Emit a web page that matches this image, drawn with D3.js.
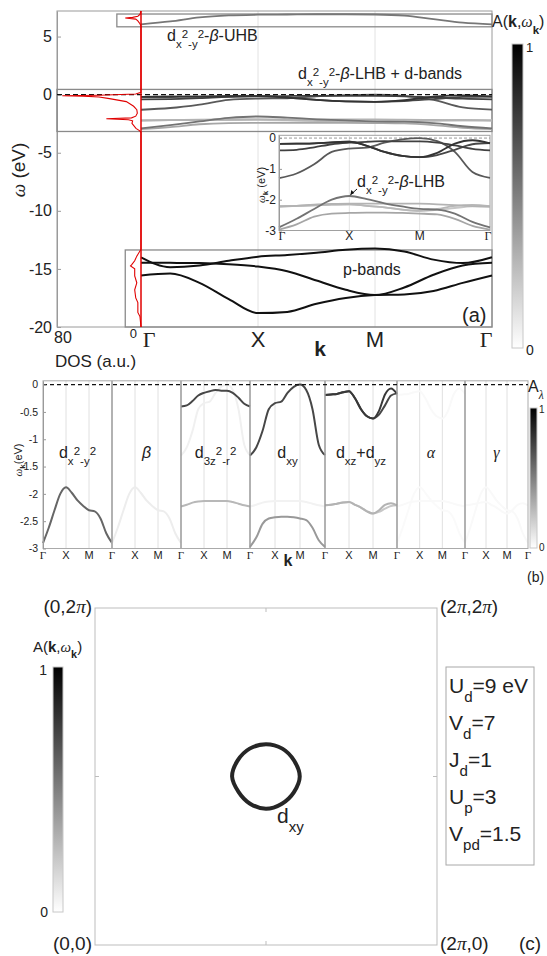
<!DOCTYPE html>
<meta charset="utf-8" />
<script src="https://d3js.org/d3.v7.min.js"></script>
<style>
  body { margin: 0; background: #fff; }
  text { font-family: "Liberation Sans", Arial, sans-serif; fill: #222; }
</style>
<div id="chart"></div>
<script>
// k path: Gamma=0, X=1, M=2, Gamma=3
const kPts = [0, 0.25, 0.5, 0.75, 1, 1.25, 1.5, 1.75, 2, 2.25, 2.5, 2.75, 3];
const kLabels = ["Γ", "X", "M", "Γ"];

// d-like bands near the Fermi level (eV)
const bandLHB    = [-2.9, -2.62, -2.3, -2.0, -1.88, -1.98, -2.12, -2.22, -2.3, -2.32, -2.45, -2.72, -2.9];
const bandZ2Up   = [-0.4, -0.38, -0.3, -0.2, -0.15, -0.12, -0.1, -0.11, -0.11, -0.15, -0.24, -0.35, -0.4];
const bandZ2Low  = [-2.23, -2.2, -2.16, -2.14, -2.13, -2.13, -2.13, -2.13, -2.13, -2.15, -2.18, -2.21, -2.23];
const bandXYUp   = [-1.3, -1.15, -0.85, -0.45, -0.34, -0.31, -0.15, -0.04, 0.0, -0.1, -0.45, -1.1, -1.29];
const bandXYLow  = [-2.97, -2.8, -2.55, -2.45, -2.43, -2.42, -2.42, -2.43, -2.45, -2.48, -2.62, -2.85, -2.97];
const bandXZ1    = [-0.19, -0.18, -0.17, -0.14, -0.12, -0.25, -0.45, -0.58, -0.62, -0.48, -0.18, -0.07, -0.17];
const bandXZ2    = [-0.19, -0.18, -0.17, -0.14, -0.12, -0.25, -0.45, -0.58, -0.62, -0.55, -0.38, -0.2, -0.16];
const bandXZLow1 = [-2.21, -2.2, -2.18, -2.16, -2.15, -2.2, -2.25, -2.32, -2.36, -2.3, -2.2, -2.17, -2.21];
const bandXZLow2 = [-2.21, -2.2, -2.18, -2.16, -2.15, -2.2, -2.25, -2.32, -2.36, -2.33, -2.27, -2.22, -2.21];
// upper Hubbard band and p bands
const bandUHB = [6.05, 6.3, 6.65, 6.82, 6.88, 6.9, 6.92, 6.92, 6.9, 6.8, 6.5, 6.2, 6.05];
const bandP1  = [-14.0, -14.85, -14.7, -14.3, -13.95, -13.8, -13.6, -13.35, -13.25, -13.5, -14.2, -14.5, -14.0];
const bandP2  = [-14.47, -14.48, -14.5, -14.6, -14.8, -15.2, -16.0, -16.8, -17.25, -16.6, -15.5, -14.7, -14.47];
const bandP3  = [-15.56, -15.4, -16.2, -17.6, -18.8, -18.7, -18.0, -17.5, -17.25, -17.2, -16.9, -16.2, -15.56];

// density of states (energy, a.u.)
const dosE = [7.2, 6.9, 6.75, 6.65, 6.6, 6.5, 6.35, 6.1, 5.9, 0.2, 0.05, -0.05, -0.09, -0.13, -0.2, -0.34, -0.6, -1.0, -1.3, -1.6, -1.85, -2.0, -2.07, -2.16, -2.25, -2.47, -2.9, -3.1, -3.25,
  -13.3, -13.9, -14.3, -14.65, -14.75, -15.0, -15.6, -16.2, -16.8, -17.5, -17.9, -18.75, -19.1, -20];
const dosV = [0, 1, 3, 8, 15, 5, 3, 1, 0, 0, 5, 40, 75, 55, 40, 30, 14, 7, 4, 3.5, 5, 9, 33, 12, 8, 8.6, 4.8, 1.5, 0,
  0, 4, 6, 9, 10, 6, 6, 4, 6, 5, 3, 3, 1, 0];

// spectral weights
const totalWeight = { LHB: 0.55, Z2Up: 0.75, Z2Low: 0.3, XYUp: 0.65, XYLow: 0.35, XZ1: 0.8, XZ2: 0.72, XZLow1: 0.28, XZLow2: 0.22 };
const orbWeights = [
  { LHB: 0.6 },
  { LHB: 0.07 },
  { Z2Up: 0.72, Z2Low: 0.28, XYUp: 0.06 },
  { XYUp: 0.72, XYLow: 0.4, Z2Low: 0.05 },
  { XZ1: 0.78, XZ2: 0.72, XZLow1: 0.3, XZLow2: 0.22 },
  { XZ1: 0.025, Z2Low: 0.025, LHB: 0.02 },
  { LHB: 0.025, XZLow1: 0.025 }
];

// Fermi surface (polar around (pi,pi))
const fsAngle  = [0, 30, 60, 90, 120, 150, 180, 210, 240, 270, 300, 330];
const fsRadius = [0.62, 0.595, 0.6, 0.603, 0.6, 0.6, 0.623, 0.58, 0.585, 0.603, 0.585, 0.59];

const params = [["U", "d", "=9 eV"], ["V", "d", "=7"], ["J", "d", "=1"], ["U", "p", "=3"], ["V", "pd", "=1.5"]];

const bands = { LHB: bandLHB, Z2Up: bandZ2Up, Z2Low: bandZ2Low, XYUp: bandXYUp, XYLow: bandXYLow,
  XZ1: bandXZ1, XZ2: bandXZ2, XZLow1: bandXZLow1, XZLow2: bandXZLow2 };

const svg = d3.select("#chart").append("svg").attr("width", 547).attr("height", 956);
const grad = svg.append("defs").append("linearGradient").attr("id", "gbw")
  .attr("x1", 0).attr("y1", 0).attr("x2", 0).attr("y2", 1);
grad.append("stop").attr("offset", "0%").attr("stop-color", "#000");
grad.append("stop").attr("offset", "100%").attr("stop-color", "#fff");

const grey = d3.interpolateRgb("#ffffff", "#000000");
const SERIF = "Liberation Serif, serif";

// text with sub / superscripts
function rich(g, x, y, parts, size, anchor) {
  const t = g.append("text").attr("x", x).attr("y", y)
    .style("font-size", size + "px").attr("text-anchor", anchor || "start");
  const offs = { n: 0, b: 0.42, sb: -0.18, p: -0.4 };
  let cur = 0;
  parts.forEach((p) => {
    const lvl = p[1] || "n";
    const off = offs[lvl] * size;
    const ts = t.append("tspan").attr("dy", off - cur)
      .style("font-size", (lvl === "n" ? size : size * 0.72) + "px").text(p[0]);
    if (p[2] === "b") ts.style("font-weight", "bold");
    if (p[2] === "i") ts.style("font-style", "italic");
    if (p[2] === "s") ts.style("font-family", SERIF);
    if (p[2] === "si") ts.style("font-family", SERIF).style("font-style", "italic");
    cur = off;
  });
  return t;
}
const DX2 = [["d"], ["x", "b"], ["2", "sb"], ["-", "b"], ["y", "b"], ["2", "sb"]];

function styleAxis(ax, size) {
  ax.select(".domain").attr("stroke", "#9a9a9a");
  ax.selectAll(".tick line").attr("stroke", "#9a9a9a");
  ax.selectAll(".tick text").style("font-size", size + "px").style("font-family", "Liberation Sans, Arial, sans-serif").attr("fill", "#262626");
}

// ---------------- panel (a) ----------------
const xK = d3.scaleLinear().domain([0, 3]).range([141, 492]);
const yA = d3.scaleLinear().domain([-20, 7.2]).range([327, 11]);
const xDos = d3.scaleLinear().domain([0, 80]).range([141, 57]);
const gA = svg.append("g");

gA.selectAll(".gx").data([1, 2]).join("line")
  .attr("x1", (d) => xK(d)).attr("x2", (d) => xK(d))
  .attr("y1", yA(7.2)).attr("y2", yA(-20)).attr("stroke", "#e2e2e2");

gA.append("rect").attr("x", xDos(80)).attr("y", yA(7.2))
  .attr("width", xK(3) - xDos(80)).attr("height", yA(-20) - yA(7.2))
  .attr("fill", "none").attr("stroke", "#9a9a9a");

const axA = gA.append("g").attr("transform", `translate(${xDos(80)},0)`)
  .call(d3.axisLeft(yA).tickValues([5, 0, -5, -10, -15, -20]).tickFormat((d) => String(d))
    .tickSizeInner(-4).tickSizeOuter(0).tickPadding(5));
styleAxis(axA, 16);

// boxes around the band groups
const boxes = [
  { d0: 23, e0: 6.94, e1: 5.84 },
  { d0: 80, e0: 0.45, e1: -3.17 },
  { d0: 15, e0: -13.37, e1: -20 }
];
gA.selectAll(".box").data(boxes).join("rect")
  .attr("x", (d) => xDos(d.d0)).attr("y", (d) => yA(d.e0))
  .attr("width", (d) => xK(3) - xDos(d.d0)).attr("height", (d) => yA(d.e1) - yA(d.e0))
  .attr("fill", "none").attr("stroke", "#8a8a8a").attr("stroke-width", 1.3);

const lineA = d3.line().x((d, i) => xK(kPts[i])).y((d) => yA(d)).curve(d3.curveMonotoneX);
const mainBands = Object.keys(totalWeight).sort((a, b) => totalWeight[a] - totalWeight[b]);
gA.selectAll(".bA").data(mainBands).join("path")
  .attr("d", (d) => lineA(bands[d])).attr("fill", "none")
  .attr("stroke", (d) => grey(totalWeight[d])).attr("stroke-width", 1.8);
gA.append("path").attr("d", lineA(bandUHB)).attr("fill", "none").attr("stroke", "#777").attr("stroke-width", 1.8);
gA.selectAll(".pA").data([bandP1, bandP2, bandP3]).join("path")
  .attr("d", (d) => lineA(d)).attr("fill", "none").attr("stroke", "#111").attr("stroke-width", 2);

gA.append("line").attr("x1", xDos(80)).attr("x2", xK(3)).attr("y1", yA(0)).attr("y2", yA(0))
  .attr("stroke", "#111").attr("stroke-width", 1.2).attr("stroke-dasharray", "5,3");

// DOS
gA.append("line").attr("x1", xDos(0)).attr("x2", xDos(0)).attr("y1", yA(7.2)).attr("y2", yA(-20))
  .attr("stroke", "#e00000").attr("stroke-width", 1.5);
gA.append("path").datum(dosE)
  .attr("d", d3.line().x((d, i) => xDos(dosV[i])).y((d) => yA(d)))
  .attr("fill", "none").attr("stroke", "#e00000").attr("stroke-width", 1.1);

// k labels
gA.selectAll(".kl").data(kLabels).join("text")
  .attr("x", (d, i) => xK(i) + (i === 0 ? 8 : i === 3 ? -6 : 0)).attr("y", 347)
  .attr("text-anchor", "middle").style("font-size", "22px")
  .style("font-family", (d) => (d === "Γ" ? SERIF : null)).text((d) => d);
gA.append("text").attr("x", 320).attr("y", 356).attr("text-anchor", "middle")
  .style("font-size", "21px").style("font-weight", "bold").text("k");
gA.append("text").attr("x", xDos(80) + 6).attr("y", 343).attr("text-anchor", "middle").style("font-size", "16px").text("80");
gA.append("text").attr("x", xDos(0) - 4).attr("y", 338).attr("text-anchor", "end").style("font-size", "13px").text("0");
gA.append("text").attr("x", 55).attr("y", 367).style("font-size", "17px").text("DOS (a.u.)");
const yl = gA.append("text").attr("transform", "translate(25,170) rotate(-90)").attr("text-anchor", "middle").style("font-size", "19px");
yl.append("tspan").style("font-family", SERIF).style("font-style", "italic").text("ω");
yl.append("tspan").text(" (eV)");

rich(gA, 167, 41, DX2.concat([["-"], ["β", "n", "i"], ["-UHB"]]), 16);
rich(gA, 298, 79, DX2.concat([["-"], ["β", "n", "i"], ["-LHB + d-bands"]]), 16);
gA.append("text").attr("x", 343).attr("y", 275).style("font-size", "16px").text("p-bands");
gA.append("text").attr("x", 462).attr("y", 322).style("font-size", "20px").text("(a)");

// inset
const xKi = d3.scaleLinear().domain([0, 3]).range([279, 490]);
const yI = d3.scaleLinear().domain([-3, 0.09]).range([230.5, 135.3]);
const gI = svg.append("g");
gI.append("rect").attr("x", xKi(0)).attr("y", yI(0.09)).attr("width", xKi(3) - xKi(0))
  .attr("height", yI(-3) - yI(0.09)).attr("fill", "#fff").attr("stroke", "#a0a0a0");
gI.selectAll(".gx").data([1, 2]).join("line")
  .attr("x1", (d) => xKi(d)).attr("x2", (d) => xKi(d))
  .attr("y1", yI(0.09)).attr("y2", yI(-3)).attr("stroke", "#e2e2e2");
gI.append("line").attr("x1", xKi(0)).attr("x2", xKi(3)).attr("y1", yI(0)).attr("y2", yI(0))
  .attr("stroke", "#999").attr("stroke-dasharray", "3,2");
const lineI = d3.line().x((d, i) => xKi(kPts[i])).y((d) => yI(d)).curve(d3.curveMonotoneX);
gI.selectAll(".bI").data(mainBands).join("path")
  .attr("d", (d) => lineI(bands[d])).attr("fill", "none")
  .attr("stroke", (d) => grey(totalWeight[d])).attr("stroke-width", 1.8);
const axI = gI.append("g").attr("transform", `translate(${xKi(0)},0)`)
  .call(d3.axisLeft(yI).tickValues([0, -1, -2, -3]).tickFormat((d) => String(d))
    .tickSizeInner(-3).tickSizeOuter(0).tickPadding(3));
styleAxis(axI, 12);
gI.selectAll(".kli").data(kLabels).join("text")
  .attr("x", (d, i) => xKi(i) + (i === 0 ? 3 : i === 3 ? -2 : 0)).attr("y", 240)
  .attr("text-anchor", "middle").style("font-size", "12px")
  .style("font-family", (d) => (d === "Γ" ? SERIF : null)).text((d) => d);
const yli = gI.append("text").attr("transform", "translate(265,185) rotate(-90)").attr("text-anchor", "middle").style("font-size", "11px").attr("fill", "#444");
yli.append("tspan").style("font-family", SERIF).style("font-style", "italic").text("ω");
yli.append("tspan").attr("dy", 3).style("font-size", "8px").style("font-weight", "bold").text("k");
yli.append("tspan").attr("dy", -3).text(" (eV)");
rich(gI, 357, 187, DX2.concat([["-"], ["β", "n", "i"], ["-LHB"]]), 16);
gI.append("line").attr("x1", 357).attr("y1", 189).attr("x2", xKi(1) + 1).attr("y2", yI(-1.88) - 1)
  .attr("stroke", "#111").attr("stroke-width", 1);
gI.append("path").attr("d", `M${xKi(1) + 1},${yI(-1.88) - 1} l1,-5 l3,3 z`).attr("fill", "#111");

// colorbar (a)
svg.append("rect").attr("x", 512).attr("y", 44).attr("width", 11).attr("height", 304)
  .attr("fill", "url(#gbw)").attr("stroke", "#c8c8c8");
svg.append("text").attr("x", 526).attr("y", 52).style("font-size", "13px").text("1");
svg.append("text").attr("x", 526).attr("y", 355).style("font-size", "14px").text("0");
rich(svg, 492, 27, [["A("], ["k", "n", "b"], [","], ["ω", "n", "si"], ["k", "b", "b"], [")"]], 16);

// ---------------- panel (b) ----------------
const pX = d3.scaleLinear().domain([0, 1, 2, 3, 4, 5, 6, 7]).range([43, 112, 181, 250, 325, 397, 465, 528]);
const yB = d3.scaleLinear().domain([-3, 0.07]).range([548.5, 380.8]);
const gB = svg.append("g");

const subGrid = [];
d3.range(7).forEach((p) => { subGrid.push(p + 1 / 3, p + 2 / 3); });
gB.selectAll(".sg").data(subGrid).join("line")
  .attr("x1", (d) => pX(d)).attr("x2", (d) => pX(d))
  .attr("y1", yB(0.07)).attr("y2", yB(-3)).attr("stroke", "#e0e0e0");

orbWeights.forEach((w, p) => {
  const ln = d3.line().x((d, i) => pX(p + kPts[i] / 3)).y((d) => yB(d)).curve(d3.curveMonotoneX);
  const names = Object.keys(w).sort((a, b) => w[a] - w[b]);
  gB.selectAll(".ob" + p).data(names).join("path")
    .attr("d", (d) => ln(bands[d])).attr("fill", "none")
    .attr("stroke", (d) => grey(w[d])).attr("stroke-width", 2);
});

gB.selectAll(".pb").data([1, 2, 3, 4, 5, 6]).join("line")
  .attr("x1", (d) => pX(d)).attr("x2", (d) => pX(d))
  .attr("y1", yB(0.07)).attr("y2", yB(-3)).attr("stroke", "#999").attr("stroke-width", 1.5);
gB.append("rect").attr("x", pX(0)).attr("y", yB(0.07)).attr("width", pX(7) - pX(0))
  .attr("height", yB(-3) - yB(0.07)).attr("fill", "none").attr("stroke", "#aaa");
gB.append("line").attr("x1", pX(0)).attr("x2", pX(7)).attr("y1", yB(0)).attr("y2", yB(0))
  .attr("stroke", "#111").attr("stroke-width", 1.1).attr("stroke-dasharray", "4,3");

const axB = gB.append("g").attr("transform", `translate(${pX(0)},0)`)
  .call(d3.axisLeft(yB).tickValues([0, -0.5, -1, -1.5, -2, -2.5, -3]).tickFormat((d) => String(d))
    .tickSizeInner(-3).tickSizeOuter(0).tickPadding(5));
styleAxis(axB, 10.5);

const bLabels = [];
d3.range(7).forEach((p) => { [0, 1, 2].forEach((j) => bLabels.push({ x: p + j / 3, t: kLabels[j] })); });
bLabels.push({ x: 7, t: "Γ" });
gB.selectAll(".bl").data(bLabels).join("text")
  .attr("x", (d) => pX(d.x)).attr("y", 559).attr("text-anchor", "middle").style("font-size", "11px")
  .style("font-family", (d) => (d.t === "Γ" ? SERIF : null)).text((d) => d.t);
gB.append("text").attr("x", 288).attr("y", 566).attr("text-anchor", "middle")
  .style("font-size", "16px").style("font-weight", "bold").text("k");
const ylb = gB.append("text").attr("transform", "translate(22,460) rotate(-90)").attr("text-anchor", "middle").style("font-size", "11px").attr("fill", "#444");
ylb.append("tspan").style("font-family", SERIF).style("font-style", "italic").text("ω");
ylb.append("tspan").attr("dy", 3).style("font-size", "8px").style("font-weight", "bold").text("k");
ylb.append("tspan").attr("dy", -3).text("(eV)");

const orbLabels = [
  DX2,
  [["β", "n", "i"]],
  [["d"], ["3z", "b"], ["2", "sb"], ["-r", "b"], ["2", "sb"]],
  [["d"], ["xy", "b"]],
  [["d"], ["xz", "b"], ["+d"], ["yz", "b"]],
  [["α", "n", "si"]],
  [["γ", "n", "si"]]
];
orbLabels.forEach((parts, p) => rich(gB, pX(p + 0.5), 458, parts, 16, "middle"));

svg.append("rect").attr("x", 530).attr("y", 408).attr("width", 7).attr("height", 140)
  .attr("fill", "url(#gbw)").attr("stroke", "#c8c8c8");
svg.append("text").attr("x", 539).attr("y", 413).style("font-size", "10px").text("1");
svg.append("text").attr("x", 539).attr("y", 551).style("font-size", "10px").text("0");
rich(svg, 528, 392, [["A"], ["λ", "b", "si"]], 16);
svg.append("text").attr("x", 527).attr("y", 582).style("font-size", "14px").text("(b)");

// ---------------- panel (c) ----------------
const xC = d3.scaleLinear().domain([0, 2 * Math.PI]).range([95, 437]);
const yC = d3.scaleLinear().domain([0, 2 * Math.PI]).range([945, 608]);
const gC = svg.append("g");
gC.append("rect").attr("x", xC(0)).attr("y", yC(2 * Math.PI)).attr("width", xC(2 * Math.PI) - xC(0))
  .attr("height", yC(0) - yC(2 * Math.PI)).attr("fill", "none").attr("stroke", "#bdbdbd");
[[xC(Math.PI), yC(0), 0, -4], [xC(Math.PI), yC(2 * Math.PI), 0, 4], [xC(0), yC(Math.PI), 4, 0], [xC(2 * Math.PI), yC(Math.PI), -4, 0]]
  .forEach((t) => gC.append("line").attr("x1", t[0]).attr("y1", t[1]).attr("x2", t[0] + t[2]).attr("y2", t[1] + t[3]).attr("stroke", "#bdbdbd"));

const fsPts = fsAngle.map((a, i) => [Math.PI + fsRadius[i] * Math.cos(a * Math.PI / 180), Math.PI + fsRadius[i] * Math.sin(a * Math.PI / 180)]);
gC.append("path").attr("d", d3.line().x((d) => xC(d[0])).y((d) => yC(d[1])).curve(d3.curveCardinalClosed)(fsPts))
  .attr("fill", "none").attr("stroke", "#262626").attr("stroke-width", 4);
rich(gC, 277, 823, [["d"], ["xy", "b"]], 21);

const cornerLbl = [
  { x: 92, y: 613, a: "end", t: [["(0,2"], ["π", "n", "si"], [")"]] },
  { x: 440, y: 613, a: "start", t: [["(2"], ["π", "n", "si"], [",2"], ["π", "n", "si"], [")"]] },
  { x: 92, y: 950, a: "end", t: [["(0,0)"]] },
  { x: 440, y: 950, a: "start", t: [["(2"], ["π", "n", "si"], [",0)"]] },
  { x: 519, y: 950, a: "start", t: [["(c)"]] }
];
cornerLbl.forEach((c) => rich(gC, c.x, c.y, c.t, 19, c.a));

svg.append("rect").attr("x", 53).attr("y", 667).attr("width", 10).attr("height", 245)
  .attr("fill", "url(#gbw)").attr("stroke", "#c8c8c8");
svg.append("text").attr("x", 47).attr("y", 675).attr("text-anchor", "end").style("font-size", "14px").text("1");
svg.append("text").attr("x", 48).attr("y", 917).attr("text-anchor", "end").style("font-size", "14px").text("0");
rich(svg, 33, 652, [["A("], ["k", "n", "b"], [","], ["ω", "n", "si"], ["k", "b", "b"], [")"]], 15);

gC.append("rect").attr("x", 446).attr("y", 667).attr("width", 88).attr("height", 198)
  .attr("fill", "none").attr("stroke", "#a8a8a8");
params.forEach((p, i) => rich(gC, 449, 693 + i * 37, [[p[0]], [p[1], "b"], [p[2]]], 21));
</script>
